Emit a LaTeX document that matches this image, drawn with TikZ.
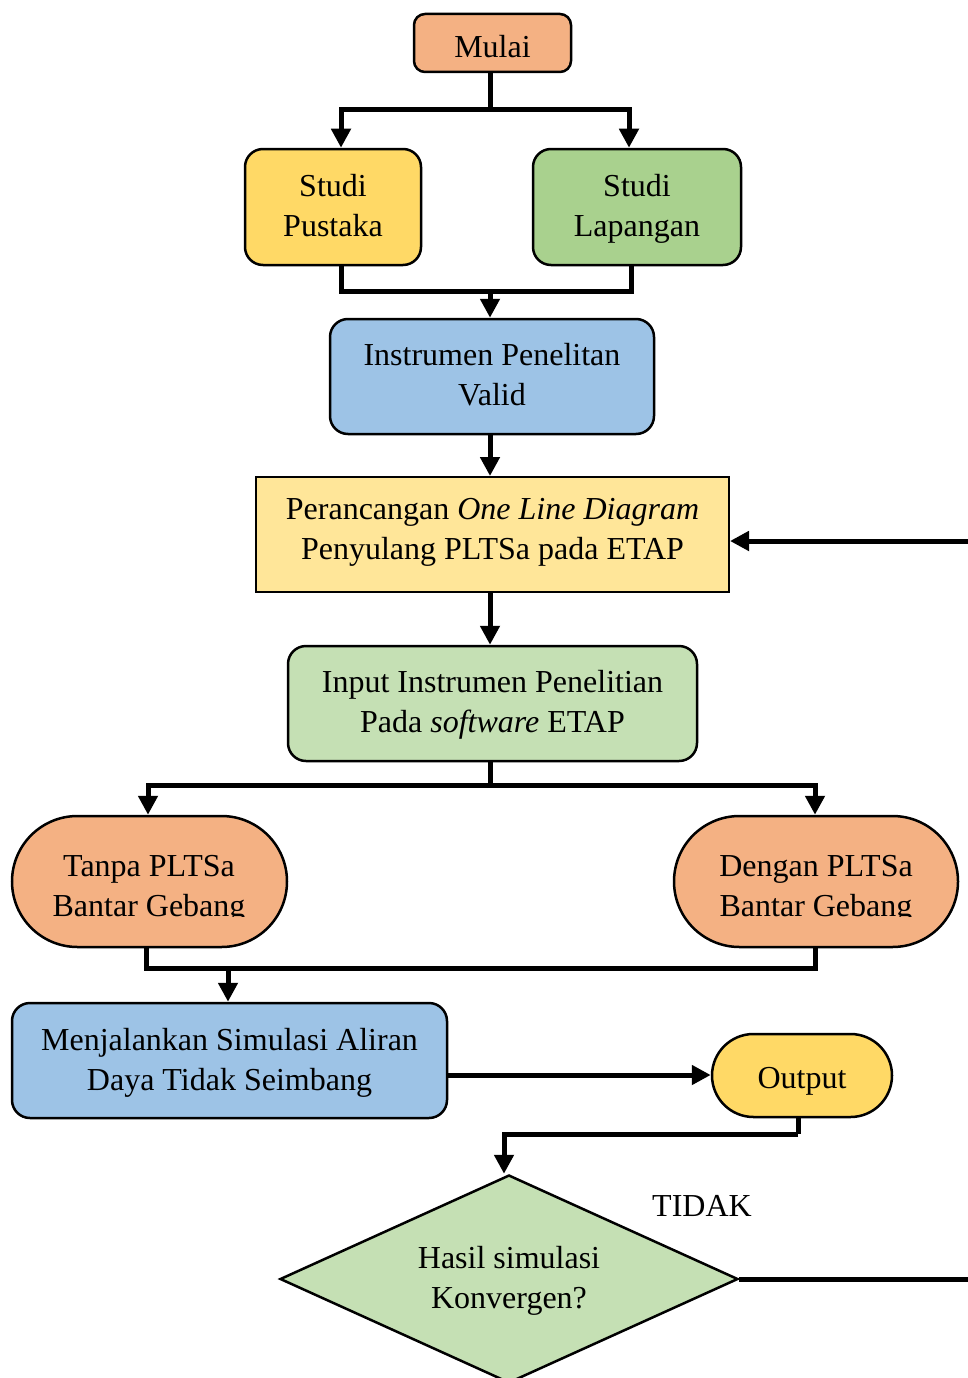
\documentclass[tikz,border=0pt]{standalone}
\usepackage{fontspec}
\setmainfont{Liberation Serif}
\usetikzlibrary{arrows.meta,shapes.geometric,shapes.misc}

\definecolor{cOrange}{HTML}{F4B183}
\definecolor{cYellow}{HTML}{FFD966}
\definecolor{cGreen}{HTML}{A9D18E}
\definecolor{cBlue}{HTML}{9DC3E6}
\definecolor{cPaleYellow}{HTML}{FFE699}
\definecolor{cPaleGreen}{HTML}{C5E0B4}

% invisible rule that sets the height of a node's first line
\newcommand\topstrut[1]{\rule{0pt}{#1pt}}

\begin{document}
\begin{tikzpicture}[x=1pt,y=-1pt,
  font=\fontsize{32}{40}\selectfont,
  box/.style={draw=black, line width=2.5pt, rectangle, rounded corners=18pt,
    align=center, inner sep=0pt},
  plainbox/.style={draw=black, line width=2pt, rectangle, align=center, inner sep=0pt},
  pill/.style={draw=black, line width=2.5pt, rounded rectangle, inner sep=0pt},
  decision/.style={draw=black, line width=2.5pt, diamond, shape aspect=2.2,
    align=center, inner sep=0pt},
  link/.style={line width=5pt},
  arrow/.style={line width=5pt, -{Triangle[length=19pt,width=19pt]}},
  label/.style={align=center, inner sep=0pt}]

\useasboundingbox (0,0) rectangle (968,1378);
\clip (0,0) rectangle (968,1378);

% process nodes
\node[box, rounded corners=11pt, fill=cOrange, minimum width=157pt, minimum height=58pt]
  (mulai) at (492.5,43) {\topstrut{42}Mulai\strut};
\node[box, fill=cYellow, minimum width=176pt, minimum height=116pt]
  (pustaka) at (333,207) {\topstrut{30}Studi\\Pustaka\strut};
\node[box, fill=cGreen, minimum width=208pt, minimum height=116pt]
  (lapangan) at (637,207) {\topstrut{30}Studi\\Lapangan\strut};
\node[box, fill=cBlue, minimum width=324pt, minimum height=115pt]
  (instrumen) at (492,376.5) {\topstrut{30}Instrumen Penelitan\\Valid\strut};
\node[plainbox, fill=cPaleYellow, minimum width=473pt, minimum height=115pt]
  (rancang) at (492.5,534.5)
  {\topstrut{20}Perancangan \textit{One Line Diagram}\\Penyulang PLTSa pada ETAP\strut};
\node[box, fill=cPaleGreen, minimum width=409pt, minimum height=115pt]
  (input) at (492.5,703.5)
  {\topstrut{30}Input Instrumen Penelitian\\Pada \textit{software} ETAP\strut};

% scenario terminals (their text boxes cut the descenders of the second line)
\node[pill, fill=cOrange, minimum width=275pt, minimum height=131pt]
  (tanpa) at (149.5,881.5) {};
\node[pill, fill=cOrange, minimum width=284pt, minimum height=131pt]
  (dengan) at (816,881.5) {};
\begin{scope}
  \clip (20,830) rectangle (280,916.5);
  \node[label] (tanpatext) at (149,881.5) {\topstrut{41}Tanpa PLTSa\\Bantar Gebang\strut};
\end{scope}
\begin{scope}
  \clip (680,830) rectangle (950,916.5);
  \node[label] (dengantext) at (816,881.5) {\topstrut{41}Dengan PLTSa\\Bantar Gebang\strut};
\end{scope}

\node[box, fill=cBlue, minimum width=435pt, minimum height=115pt]
  (sim) at (229.5,1060.5)
  {\topstrut{31}Menjalankan Simulasi Aliran\\Daya Tidak Seimbang\strut};
\node[pill, fill=cYellow, minimum width=180pt, minimum height=83pt]
  (output) at (802,1075.5) {\topstrut{37}Output\strut};
\node[decision, fill=cPaleGreen, minimum width=458pt, minimum height=208pt]
  (cek) at (509,1279) {\topstrut{31}Hasil simulasi\\Konvergen?\strut};
\node[label] (tidak) at (702,1206) {TIDAK};

% junction points
\coordinate (split1) at (490,110);
\coordinate (merge1) at (490,291);
\coordinate (split2) at (490,785);
\coordinate (merge2) at (228,968);
\coordinate (merge2r) at (815,968);
\coordinate (bend) at (798,1134);
\coordinate (loop) at (990,1279);

% connectors
\draw[link] ([xshift=-2.5pt]mulai.south) -- (split1);
\draw[arrow] (split1) -| ([xshift=8pt]pustaka.north);
\draw[arrow] (split1) -| ([xshift=-8pt]lapangan.north);

\draw[link] ([xshift=8pt]pustaka.south) |- (merge1) -| ([xshift=-6pt]lapangan.south);
\draw[arrow] (merge1) -- ([xshift=-2pt]instrumen.north);

\draw[arrow] ([xshift=-2pt]instrumen.south) -- ([xshift=-2.5pt]rancang.north);
\draw[arrow] ([xshift=-2.5pt]rancang.south) -- ([xshift=-2.5pt]input.north);

\draw[link] ([xshift=-2.5pt]input.south) -- (split2);
\draw[arrow] (split2) -| ([xshift=-1.5pt]tanpa.north);
\draw[arrow] (split2) -| ([xshift=-1pt]dengan.north);

\draw[link] ([xshift=-3.5pt]tanpa.south) |- (merge2r) -- ([xshift=-1pt]dengan.south);
\draw[arrow] (merge2) -- ([xshift=-1.5pt]sim.north);

\draw[arrow] ([yshift=-14.5pt]sim.east) -- ([yshift=0.5pt]output.west);
\draw[link] ([xshift=-4pt]output.south) -- (bend);
\draw[arrow] (bend) -| ([xshift=-5pt]cek.north);

\draw[arrow] (cek.east) -- (loop) |- ([yshift=-6.5pt]rancang.east);

\end{tikzpicture}
\end{document}
